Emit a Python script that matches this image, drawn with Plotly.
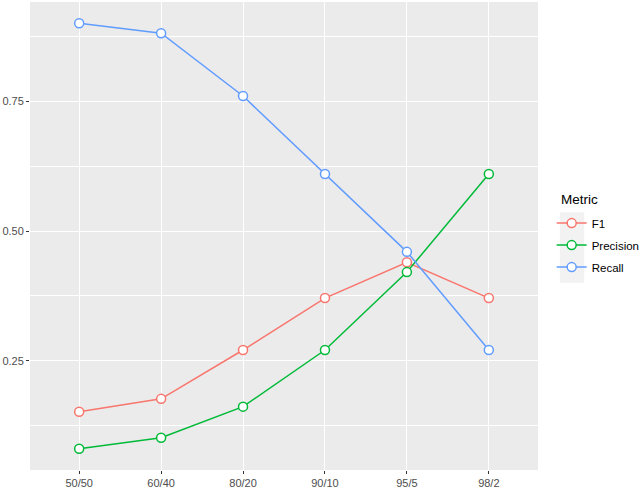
import plotly.graph_objects as go

# train/test splits on the x axis
splits = ['50/50', '60/40', '80/20', '90/10', '95/5', '98/2']

# metric values
f1 = [0.152, 0.177, 0.271, 0.371, 0.440, 0.371]
precision = [0.081, 0.102, 0.162, 0.271, 0.421, 0.610]
recall = [0.900, 0.881, 0.760, 0.610, 0.460, 0.271]

metrics = ['F1', 'Precision', 'Recall']
series = [f1, precision, recall]
colors = ['#F8766D', '#00BA38', '#619CFF']

fig = go.Figure()
for name, vals, col in zip(metrics, series, colors):
    fig.add_trace(go.Scatter(
        x=splits, y=vals, name=name, legendgroup=name, mode='lines+markers',
        line=dict(color=col, width=1.5),
        marker=dict(symbol='circle', size=9, color='white',
                    line=dict(color=col, width=1.5)),
    ))

# grey key background like ggplot legend
fig.add_shape(type='rect', xref='paper', yref='paper',
              x0=1.043, x1=1.091, y0=0.400, y1=0.551,
              fillcolor='#F2F2F2', line=dict(width=0), layer='below')

# legend title placed separately so the gap to the keys matches
fig.add_annotation(text='Metric', xref='paper', yref='paper',
                   x=1.041, y=0.579, xanchor='left', yanchor='middle',
                   showarrow=False, font=dict(size=13.5, color='black'))

fig.update_layout(
    width=640, height=492,
    margin=dict(l=30, r=102, t=2, b=22),
    paper_bgcolor='white',
    plot_bgcolor='#EBEBEB',
    font=dict(family='Liberation Sans, Arial', size=11, color='#4D4D4D'),
    showlegend=True,
    legend=dict(
        xref='container', yref='container',
        x=0.862, y=0.576, xanchor='left', yanchor='top',
        bgcolor='rgba(0,0,0,0)',
        font=dict(size=11.5, color='black'),
        itemwidth=30, tracegroupgap=3,
    ),
    xaxis=dict(
        type='category', range=[-0.6, 5.6],
        showgrid=True, gridcolor='white', gridwidth=1.1,
        ticks='outside', ticklen=3, tickcolor='#333333',
        zeroline=False, showline=False,
        tickfont=dict(size=11, color='#4D4D4D'),
    ),
    yaxis=dict(
        range=[0.040, 0.941],
        tickvals=[0.25, 0.5, 0.75], ticktext=['0.25', '0.50', '0.75'],
        showgrid=True, gridcolor='white', gridwidth=1.1,
        minor=dict(tickvals=[0.125, 0.375, 0.625, 0.875],
                   showgrid=True, gridcolor='white', gridwidth=0.5, ticks=''),
        ticks='outside', ticklen=3, tickcolor='#333333',
        zeroline=False, showline=False,
        tickfont=dict(size=11, color='#4D4D4D'),
    ),
)

# drop the default page margin so the figure sits at the window corner
fig.write_html('out.html', config={'displayModeBar': False},
               post_script="document.body.style.margin='0';")
